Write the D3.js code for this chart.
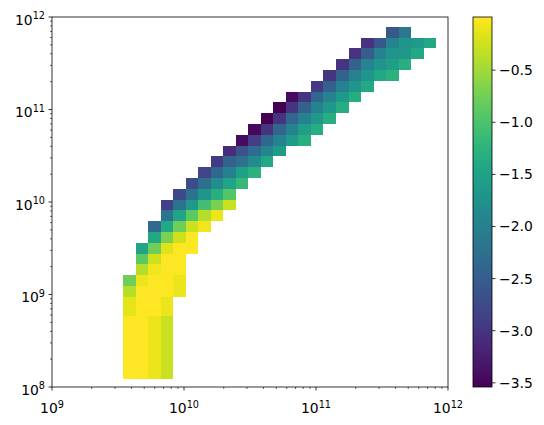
<!DOCTYPE html>
<html><head><meta charset="utf-8">
<script src="https://cdn.jsdelivr.net/npm/d3@7/dist/d3.min.js"></script>
<style>
body{margin:0;background:#fff}
text{font-family:"DejaVu Sans",sans-serif;font-size:13.9px;fill:#000}
</style>
</head><body><svg id="c" width="544" height="425"></svg>
<script>
// ---- data ----
// log10 bin edges along x (25 bins)
const xEdgesLog = [9.538, 9.6329, 9.7278, 9.8228, 9.9177, 10.0126, 10.1075, 10.2024, 10.2974, 10.3923,
  10.4872, 10.5821, 10.6770, 10.7720, 10.8669, 10.9618, 11.0567, 11.1516, 11.2466, 11.3415,
  11.4364, 11.5313, 11.6262, 11.7212, 11.8161, 11.911];
// log10 bin edges along y, top to bottom
const yEdgesLog = [11.8951, 11.7783, 11.6616, 11.5448, 11.4281, 11.3113, 11.1945, 11.0778, 10.9610, 10.8443,
  10.7275, 10.6107, 10.4940, 10.3772, 10.2605, 10.1437, 10.0269, 9.9102, 9.7934, 9.6767,
  9.5599, 9.4431, 9.3264, 9.2096, 9.0929, 8.9761, 8.7676, 8.0865];
// first filled x-bin of each y row (top to bottom)
const rowStart = [21, 19, 18, 17, 16, 15, 13, 12, 11, 10, 9, 8, 7, 6, 5, 4, 3, 3, 2, 2, 1, 1, 1, 0, 0, 0, 0];
// log10 values of the filled cells of each row
const rowValues = [
  [-2.58, -2.12],
  [-3.04, -2.58, -1.94, -1.69, -1.62, -1.41],
  [-3.04, -2.51, -1.98, -1.69, -1.66, -1.41],
  [-3.01, -2.44, -1.94, -1.69, -1.55, -1.30],
  [-3.01, -2.44, -1.98, -1.69, -1.41, -1.27],
  [-2.94, -2.44, -1.98, -1.69, -1.41],
  [-3.43, -3.01, -2.37, -1.98, -1.62, -1.34],
  [-3.54, -3.01, -2.44, -1.98, -1.66, -1.34],
  [-3.54, -3.01, -2.37, -1.98, -1.62, -1.30],
  [-3.47, -3.01, -2.37, -1.98, -1.55, -1.34],
  [-3.43, -2.90, -2.37, -1.98, -1.59, -1.30],
  [-3.11, -2.65, -2.30, -1.94, -1.59],
  [-2.94, -2.44, -2.23, -1.84, -1.41],
  [-2.83, -2.37, -2.01, -1.52, -1.27],
  [-2.72, -2.26, -1.80, -1.48, -1.16],
  [-2.76, -2.19, -1.69, -1.30, -0.95],
  [-2.87, -2.19, -1.62, -1.06, -0.70, -0.27],
  [-2.19, -1.48, -0.88, -0.38, -0.10],
  [-2.33, -1.41, -0.77, -0.27, -0.06],
  [-1.41, -0.70, -0.24, 0.0],
  [-1.48, -0.77, -0.17, 0.0, 0.0],
  [-0.88, -0.24, 0.0, 0.0],
  [-0.38, -0.06, 0.0, 0.0],
  [-0.77, -0.10, 0.0, 0.0, -0.10],
  [-0.38, 0.0, 0.0, 0.0, -0.10],
  [-0.13, 0.0, 0.0, -0.10],
  [0.0, 0.0, -0.10, -0.27]
];
const xTickExps = [9, 10, 11, 12];
const yTickExps = [8, 9, 10, 11, 12];
const cbTicks = [-0.5, -1.0, -1.5, -2.0, -2.5, -3.0, -3.5];
const colorDomain = [-3.54, 0.01];

// ---- layout ----
const L = 52, R = 448, T = 17, B = 387;
const cbL = 473, cbR = 492;
const svg = d3.select("#c");

const x = d3.scaleLog().domain([1e9, 1e12]).range([L, R]);
const y = d3.scaleLog().domain([1e8, 1e12]).range([B, T]);
const color = d3.scaleSequential(d3.interpolateViridis).domain(colorDomain);

// cells
const cells = [];
rowValues.forEach((vals, k) => {
  vals.forEach((v, i) => {
    const j = rowStart[k] + i;
    cells.push({j, k, v});
  });
});
svg.append("g").selectAll("rect").data(cells).join("rect")
  .attr("x", d => x(Math.pow(10, xEdgesLog[d.j])))
  .attr("width", d => x(Math.pow(10, xEdgesLog[d.j + 1])) - x(Math.pow(10, xEdgesLog[d.j])))
  .attr("y", d => y(Math.pow(10, yEdgesLog[d.k])))
  .attr("height", d => y(Math.pow(10, yEdgesLog[d.k + 1])) - y(Math.pow(10, yEdgesLog[d.k])))
  .attr("fill", d => color(d.v))
  .attr("shape-rendering", "crispEdges");

// spines
svg.append("rect").attr("x", L).attr("y", T).attr("width", R - L).attr("height", B - T)
  .attr("fill", "none").attr("stroke", "#000").attr("stroke-width", 0.8);

// ticks
const tg = svg.append("g").attr("stroke", "#000");
function minorVals(e0, e1) {
  const out = [];
  for (let e = e0; e < e1; e++) for (let m = 2; m <= 9; m++) out.push(m * Math.pow(10, e));
  return out;
}
xTickExps.forEach(e => {
  const px = x(Math.pow(10, e));
  tg.append("line").attr("x1", px).attr("x2", px).attr("y1", B).attr("y2", B + 3.5).attr("stroke-width", 0.8);
});
minorVals(9, 12).forEach(v => {
  const px = x(v);
  tg.append("line").attr("x1", px).attr("x2", px).attr("y1", B).attr("y2", B + 2).attr("stroke-width", 0.6);
});
yTickExps.forEach(e => {
  const py = y(Math.pow(10, e));
  tg.append("line").attr("x1", L - 3.5).attr("x2", L).attr("y1", py).attr("y2", py).attr("stroke-width", 0.8);
});
minorVals(8, 12).forEach(v => {
  const py = y(v);
  tg.append("line").attr("x1", L - 2).attr("x2", L).attr("y1", py).attr("y2", py).attr("stroke-width", 0.6);
});

// tick labels
function powLabel(sel, e) {
  sel.append("tspan").text("10");
  sel.append("tspan").attr("dy", -5.4).attr("font-size", "9.7px").text(String(e));
}
xTickExps.forEach(e => {
  const t = svg.append("text").attr("x", x(Math.pow(10, e))).attr("y", 413).attr("text-anchor", "middle");
  powLabel(t, e);
});
yTickExps.forEach(e => {
  const t = svg.append("text").attr("x", 45).attr("y", y(Math.pow(10, e)) + 7.5).attr("text-anchor", "end");
  powLabel(t, e);
});

// colorbar
const cy = d3.scaleLinear().domain(colorDomain).range([B, T]);
const defs = svg.append("defs");
const grad = defs.append("linearGradient").attr("id", "vg")
  .attr("x1", 0).attr("y1", 1).attr("x2", 0).attr("y2", 0);
d3.range(0, 1.0001, 0.02).forEach(t => {
  grad.append("stop").attr("offset", t).attr("stop-color", d3.interpolateViridis(t));
});
svg.append("rect").attr("x", cbL).attr("y", cy(colorDomain[1])).attr("width", cbR - cbL)
  .attr("height", cy(colorDomain[0]) - cy(colorDomain[1])).attr("fill", "url(#vg)");
svg.append("rect").attr("x", cbL).attr("y", T).attr("width", cbR - cbL).attr("height", B - T)
  .attr("fill", "none").attr("stroke", "#000").attr("stroke-width", 0.8);
cbTicks.forEach(v => {
  const py = cy(v);
  svg.append("line").attr("x1", cbR).attr("x2", cbR + 3.5).attr("y1", py).attr("y2", py)
    .attr("stroke", "#000").attr("stroke-width", 0.8);
  svg.append("text").attr("x", cbR + 7).attr("y", py + 5).text(d3.format(".1f")(v).replace("-", "\u2212"));
});
</script>
</body></html>
